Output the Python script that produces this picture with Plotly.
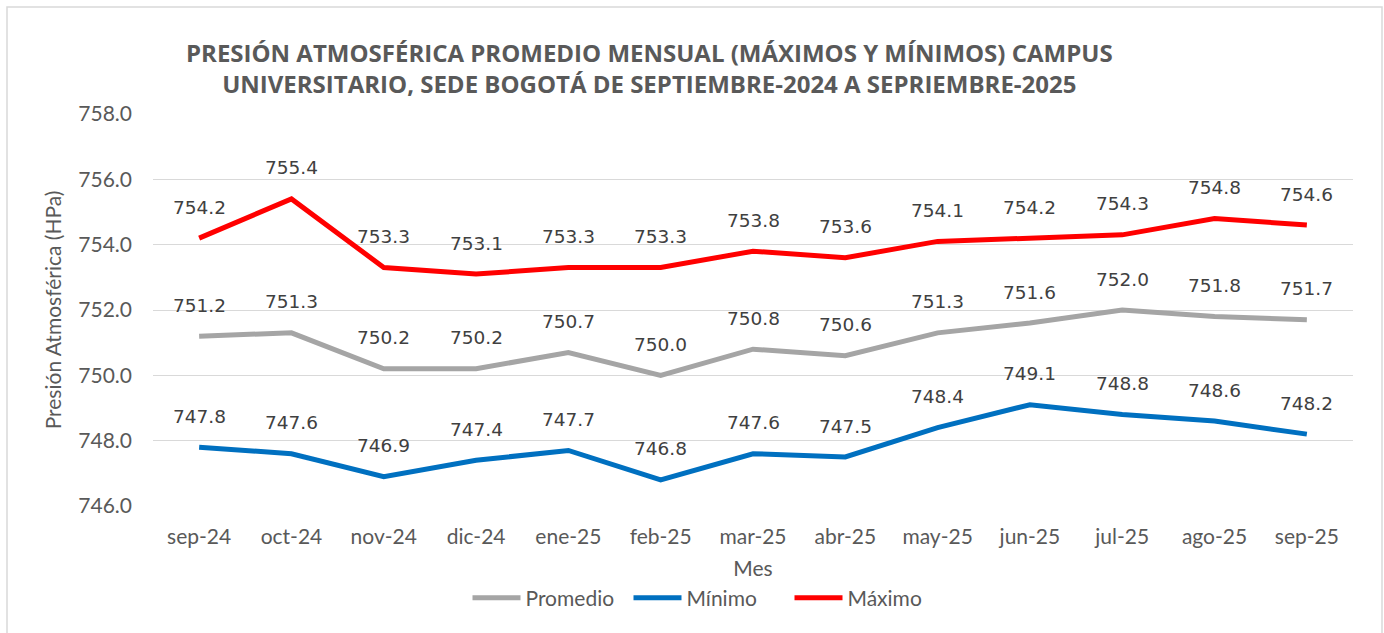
import plotly.graph_objects as go

meses = ["sep-24", "oct-24", "nov-24", "dic-24", "ene-25", "feb-25", "mar-25",
         "abr-25", "may-25", "jun-25", "jul-25", "ago-25", "sep-25"]
promedio = [751.2, 751.3, 750.2, 750.2, 750.7, 750.0, 750.8, 750.6, 751.3, 751.6, 752.0, 751.8, 751.7]
minimo = [747.8, 747.6, 746.9, 747.4, 747.7, 746.8, 747.6, 747.5, 748.4, 749.1, 748.8, 748.6, 748.2]
maximo = [754.2, 755.4, 753.3, 753.1, 753.3, 753.3, 753.8, 753.6, 754.1, 754.2, 754.3, 754.8, 754.6]

series = [("Promedio", promedio, "#A5A5A5"),
          ("Mínimo", minimo, "#0070C0"),
          ("Máximo", maximo, "#FF0000")]

W, H = 1384, 633
L, R, T, B = 153, 31, 114, 127
pw, ph = W - L - R, H - T - B

def px_x(p):
    return (p - L) / pw

def px_y(p):
    return (H - B - p) / ph

fig = go.Figure()
annotations = []
for name, vals, color in series:
    fig.add_trace(go.Scatter(x=meses, y=vals, name=name, mode="lines",
                             line=dict(color=color, width=5)))
    for m, v in zip(meses, vals):
        annotations.append(dict(x=m, y=v, text=f"{v:.1f}", showarrow=False,
                                yshift=31, font=dict(family="DejaVu Sans", size=18.5, color="#404040")))

annotations.append(dict(xref="paper", yref="paper", x=px_x(649), y=px_y(68),
                        text="PRESIÓN ATMOSFÉRICA PROMEDIO MENSUAL (MÁXIMOS Y MÍNIMOS) CAMPUS<br>UNIVERSITARIO, SEDE BOGOTÁ DE SEPTIEMBRE-2024 A SEPRIEMBRE-2025",
                        showarrow=False, xanchor="center", yanchor="middle",
                        font=dict(family="Open Sans", size=24, color="#595959", weight="bold")))

fig.update_layout(
    width=W, height=H,
    margin=dict(l=L, r=R, t=T, b=B),
    paper_bgcolor="white", plot_bgcolor="white",
    font=dict(family="Lato", size=21, color="#595959"),
    annotations=annotations,
    showlegend=True,
    legend=dict(orientation="h", x=px_x(709), xanchor="center", y=px_y(598), yanchor="middle",
                font=dict(family="Lato", size=21, color="#595959"), entrywidth=98, itemwidth=48),
    shapes=[dict(type="rect", xref="paper", yref="paper",
                 x0=px_x(7), x1=px_x(1382), y0=px_y(645), y1=px_y(7),
                 line=dict(color="#D9D9D9", width=1.5), layer="below")],
)
fig.update_xaxes(type="category", range=[-0.5, 12.5], showgrid=False, showline=False,
                 ticks="", ticklabelstandoff=16,
                 title=dict(text="Mes", standoff=14, font=dict(size=21, color="#595959")),
                 tickfont=dict(size=21, color="#595959"))
fig.update_yaxes(range=[746, 758], dtick=2, tickformat=".1f", showgrid=True,
                 gridcolor="#D9D9D9", gridwidth=1.3, zeroline=False, showline=False,
                 ticks="", ticklabelstandoff=20,
                 title=dict(text="Presión Atmosférica (HPa)", standoff=10, font=dict(size=21, color="#595959")),
                 tickfont=dict(size=21, color="#595959"))

fig.write_html("out.html")
